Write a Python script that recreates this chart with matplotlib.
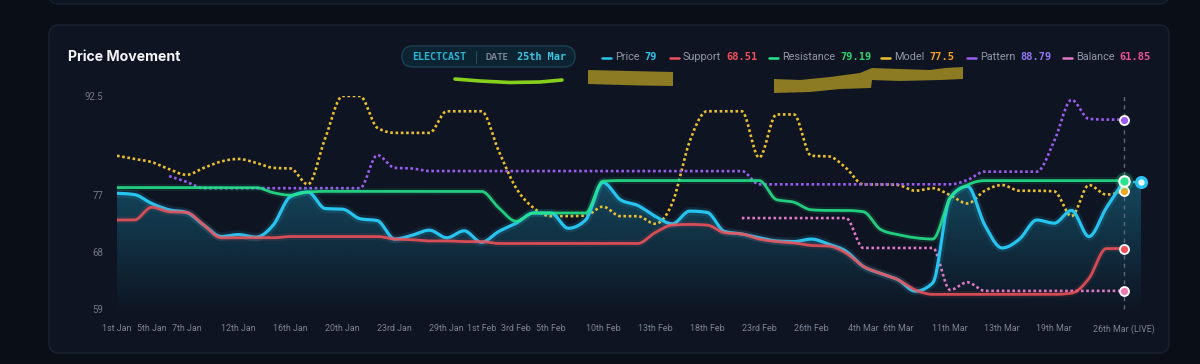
import numpy as np
import matplotlib
matplotlib.use('Agg')
import matplotlib.pyplot as plt
from matplotlib.patches import FancyBboxPatch, Polygon

plt.rcParams['font.family'] = ['Inter', 'DejaVu Sans']

nan = np.nan

# x axis: category index -> shown label
tick_pos = [0, 2, 4, 7, 10, 13, 16, 19, 21, 23, 25, 28, 31, 34, 37, 40, 43, 45, 48, 51, 54, 58]
tick_labels = ['1st Jan', '5th Jan', '7th Jan', '12th Jan', '16th Jan', '20th Jan', '23rd Jan',
               '29th Jan', '1st Feb', '3rd Feb', '5th Feb', '10th Feb', '13th Feb', '18th Feb',
               '23rd Feb', '26th Feb', '4th Mar', '6th Mar', '11th Mar', '13th Mar', '19th Mar',
               '26th Mar (LIVE)']
y_ticks = [59, 68, 77, 92.5]
live_idx = 58

price = [77.2, 77.0, 75.6, 74.6, 74.2, 72.2, 70.4, 70.7, 70.3, 72.2,
         76.7, 77.4, 74.8, 74.7, 73.2, 72.9, 70.0, 70.6, 71.4, 70.2,
         71.3, 69.5, 71.2, 72.5, 74.1, 74.1, 71.7, 73.0, 78.9, 76.2,
         75.3, 73.6, 72.4, 74.4, 74.2, 71.2, 70.8, 70.2, 69.7, 69.6,
         70.0, 69.2, 68.1, 65.7, 64.6, 63.6, 61.8, 63.1, 76.5, 78.3,
         72.2, 68.6, 70.0, 73.0, 72.5, 74.5, 70.4, 74.9, 79.0, 79.0]
support = [73.0, 73.0, 75.0, 74.3, 74.2, 72.2, 70.2, 70.2, 70.2, 70.2,
           70.4, 70.4, 70.4, 70.4, 70.4, 70.4, 70.0, 69.9, 69.7, 69.7,
           69.6, 69.6, 69.3, 69.3, 69.3, 69.3, 69.3, 69.3, 69.3, 69.3,
           69.3, 71.0, 72.2, 72.3, 72.2, 71.0, 70.8, 70.0, 69.6, 69.4,
           69.0, 68.9, 67.8, 65.7, 64.6, 63.6, 62.0, 61.3, 61.3, 61.3,
           61.3, 61.3, 61.3, 61.3, 61.3, 61.5, 63.8, 68.5, 68.51]
resistance = [78.1, 78.1, 78.1, 78.1, 78.1, 78.1, 78.1, 78.1, 78.1, 77.3,
              76.9, 77.4, 77.5, 77.5, 77.5, 77.5, 77.5, 77.5, 77.5, 77.5,
              77.5, 77.5, 74.9, 72.8, 74.1, 74.1, 74.1, 74.1, 79.1, 79.2,
              79.2, 79.2, 79.2, 79.2, 79.2, 79.2, 79.2, 79.2, 76.2, 75.8,
              74.6, 74.5, 74.5, 74.3, 71.5, 70.7, 70.2, 70.0, 76.4, 78.5,
              79.19, 79.19, 79.19, 79.19, 79.19, 79.19, 79.19, 79.19, 79.19]
model = [83.1, 82.6, 82.1, 81.0, 80.1, 81.2, 82.2, 82.6, 82.0, 81.2,
         81.1, 78.6, 85.9, 92.5, 92.5, 87.5, 86.7, 86.7, 86.7, 90.1,
         90.1, 90.1, 83.8, 78.0, 74.9, 73.6, 73.6, 73.7, 75.1, 73.6,
         73.6, 72.4, 75.7, 85.4, 90.1, 90.1, 90.1, 82.8, 89.6, 89.6,
         83.1, 83.0, 81.2, 78.6, 78.6, 78.5, 77.6, 78.0, 76.9, 75.6,
         77.6, 78.5, 77.6, 77.6, 77.5, 73.6, 78.5, 77.0, 77.5]
pattern = [nan, nan, nan, 79.9, 79.0, 78.0, 78.0, 78.0, 78.0, 78.0,
           78.0, 78.0, 78.0, 78.0, 78.0, 83.2, 81.2, 81.1, 80.7, 80.7,
           80.7, 80.7, 80.7, 80.7, 80.7, 80.7, 80.7, 80.7, 80.7, 80.7,
           80.7, 80.7, 80.7, 80.7, 80.7, 80.7, 80.7, 78.6, 78.6, 78.6,
           78.6, 78.6, 78.6, 78.6, 78.6, 78.6, 78.6, 78.6, 78.6, 79.3,
           80.6, 80.6, 80.6, 80.6, 85.4, 91.9, 88.9, 88.79, 88.79]
balance = [nan, nan, nan, nan, nan, nan, nan, nan, nan, nan,
           nan, nan, nan, nan, nan, nan, nan, nan, nan, nan,
           nan, nan, nan, nan, nan, nan, nan, nan, nan, nan,
           nan, nan, nan, nan, nan, nan, 73.3, 73.3, 73.3, 73.3,
           73.3, 73.3, 73.3, 68.6, 68.6, 68.6, 68.6, 68.6, 62.0, 63.2,
           61.85, 61.85, 61.85, 61.85, 61.85, 61.85, 61.85, 61.85, 61.85]

names = ['Price', 'Support', 'Resistance', 'Model', 'Pattern', 'Balance']
series = [price, support, resistance, model, pattern, balance]
line_colors = ['#26c4ef', '#ef5159', '#25e58c', '#ecc02c', '#9b5cf0', '#df78c6']
value_colors = ['#2ec3e8', '#f0505a', '#2fd36e', '#f2a51e', '#8f78f4', '#ec4f97']

BG = '#0a0e17'
CARD = '#0e1422'


def monotone(xs, ys, n=20):
    # monotone-x cubic (same rule as d3 curveMonotoneX)
    xs = np.asarray(xs, float)
    ys = np.asarray(ys, float)
    m = len(xs)
    if m < 2:
        return xs, ys
    h = np.diff(xs)
    s = np.diff(ys) / h
    t = np.zeros(m)
    for i in range(1, m - 1):
        p = (s[i - 1] * h[i] + s[i] * h[i - 1]) / (h[i - 1] + h[i])
        t[i] = (np.sign(s[i - 1]) + np.sign(s[i])) * min(abs(s[i - 1]), abs(s[i]), 0.5 * abs(p))
    if m > 2:
        t[0] = (3 * s[0] - t[1]) / 2
        t[-1] = (3 * s[-1] - t[-2]) / 2
    else:
        t[0] = t[-1] = s[0]
    out_x, out_y = [], []
    for i in range(m - 1):
        u = np.linspace(0, 1, n, endpoint=(i == m - 2))
        h00 = 2 * u**3 - 3 * u**2 + 1
        h10 = u**3 - 2 * u**2 + u
        h01 = -2 * u**3 + 3 * u**2
        h11 = u**3 - u**2
        out_x.append(xs[i] + u * h[i])
        out_y.append(h00 * ys[i] + h10 * h[i] * t[i] + h01 * ys[i + 1] + h11 * h[i] * t[i + 1])
    return np.concatenate(out_x), np.concatenate(out_y)


def smooth(vals):
    v = np.asarray(vals, float)
    idx = np.arange(len(v))
    ok = ~np.isnan(v)
    return monotone(idx[ok], v[ok])


fig = plt.figure(figsize=(12, 3.64), dpi=100, facecolor=BG)

# page / card layer in pixel coordinates
bg = fig.add_axes([0, 0, 1, 1], zorder=0)
bg.set_xlim(0, 1200)
bg.set_ylim(364, 0)
bg.axis('off')
bg.add_patch(FancyBboxPatch((49, -30), 1120, 34, boxstyle='round,pad=0,rounding_size=10',
                            fc='#0d1320', ec='#1a2231', lw=1))
bg.add_patch(FancyBboxPatch((49, 25), 1120, 328, boxstyle='round,pad=0,rounding_size=10',
                            fc=CARD, ec='#1a2332', lw=1))
bg.text(68, 57, 'Price Movement', color='#f3f5f8', fontsize=10.2, fontweight='bold',
        va='center', ha='left')

# badge
bg.add_patch(FancyBboxPatch((402, 46), 173, 21, boxstyle='round,pad=0,rounding_size=10.5',
                            fc='#0c2331', ec='#1c4153', lw=1))
bg.text(412, 57, 'ELECTCAST', color='#27b6d6', fontsize=7.2, fontweight='bold',
        family='DejaVu Sans Mono', va='center')
bg.plot([476, 476], [51, 63], color='#28475a', lw=0.8)
bg.text(485, 57, 'DATE', color='#7c8797', fontsize=6, fontweight='bold', va='center')
bg.text(517, 57, '25th Mar', color='#3bc6e6', fontsize=7.4, fontweight='bold',
        family='DejaVu Sans Mono', va='center')

# legend
item_x = [602, 670, 769, 881, 967, 1063]
fig.canvas.draw()
renderer = fig.canvas.get_renderer()
for x0, name, s, lc, vc in zip(item_x, names, series, line_colors, value_colors):
    bg.plot([x0, x0 + 9], [57.5, 57.5], color=lc, lw=1.8, solid_capstyle='round')
    lab = bg.text(x0 + 13, 57, name, color='#8e97a8', fontsize=7.8, family='Roboto', va='center')
    bb = lab.get_window_extent(renderer)
    last = [v for v in s[:live_idx + 1] if not np.isnan(v)][-1]
    bg.text(bb.x1 + 5, 57, f'{last:g}', color=vc, fontsize=7.5, fontweight='bold',
            family='DejaVu Sans Mono', va='center')

# hand-drawn marks on top of the screenshot
bg.plot([455, 480, 510, 540, 562], [79, 81, 82.5, 82, 80], color='#86cf1c', lw=2.6,
        solid_capstyle='round')
bg.add_patch(Polygon([(588, 70), (673, 72), (673, 86), (640, 85.5), (588, 84)],
                     fc='#8c7b22', ec='none'))
bg.add_patch(Polygon([(774, 79), (800, 80), (830, 77), (860, 73), (872, 68), (900, 69),
                      (930, 70), (945, 68), (963, 67), (963, 79), (940, 80), (900, 81),
                      (872, 80), (871, 88), (840, 89), (810, 92), (774, 93)],
                     fc='#8c7b22', ec='none'))

# chart axes: index 0 at x=117px, index 59 at x=1141px, 92.5 at y=96px, 59 at y=309px
ax = fig.add_axes([117 / 1200, 1 - 309 / 364, 1024 / 1200, 213 / 364], zorder=2)
ax.set_facecolor('none')
ax.set_xlim(0, len(price) - 1)
ax.set_ylim(59, 92.5)

# gradient area under price
px, py = smooth(price)
verts = list(zip(px, py)) + [(px[-1], 59), (px[0], 59)]
clip = Polygon(verts, closed=True, fc='none', ec='none', transform=ax.transData)
ax.add_patch(clip)
alpha = np.linspace(0.48, 0.01, 256)
rgba = np.zeros((256, 1, 4))
rgba[:, 0, :3] = matplotlib.colors.to_rgb('#22c3ee')
rgba[:, 0, 3] = alpha
img = ax.imshow(rgba, extent=(0, len(price) - 1, 59, 92.5), aspect='auto', origin='upper', zorder=1)
img.set_clip_path(clip)

# vertical live marker
ax.axvline(live_idx, color='#5d6779', lw=1, ls=(0, (3, 3)), zorder=2, clip_on=False)

dot = (0, (1, 1))
# dotted series
for s, c in [(model, line_colors[3]), (pattern, line_colors[4]), (balance, line_colors[5])]:
    x, y = smooth(s)
    ax.plot(x, y, color=c, lw=1.9, ls=dot, zorder=3, dash_capstyle='butt')

# price
live_x, live_y = smooth(price[:live_idx + 1])
ax.plot(live_x, live_y, color=line_colors[0], lw=6, alpha=0.12, zorder=4)
ax.plot(live_x, live_y, color=line_colors[0], lw=2.3, zorder=4)
ax.plot([live_idx, live_idx + 1], price[live_idx:], color=line_colors[0], lw=1.6,
        ls=(0, (2, 2)), zorder=4, clip_on=False)

# resistance and support
for s, c in [(resistance, line_colors[2]), (support, line_colors[1])]:
    x, y = smooth(s)
    ax.plot(x, y, color=c, lw=5, alpha=0.1, zorder=5)
    ax.plot(x, y, color=c, lw=2.0, alpha=0.88, zorder=5)

# end markers
for s, c in [(pattern, line_colors[4]), (model, value_colors[3]), (support, line_colors[1]),
             (balance, '#f07ab4')]:
    ax.plot(live_idx, s[live_idx], 'o', ms=6.5, mfc=c, mec='white', mew=1.3, zorder=7, clip_on=False)
ax.plot(live_idx, resistance[live_idx], 'o', ms=13, mfc=line_colors[2], mec='none', alpha=0.25,
        zorder=7, clip_on=False)
ax.plot(live_idx, resistance[live_idx], 'o', ms=7.5, mfc=line_colors[2], mec='white', mew=1.5,
        zorder=8, clip_on=False)
ax.plot(len(price) - 1, price[-1], 'o', ms=7, mfc='#e9fbff', mec=line_colors[0], mew=2.4,
        zorder=8, clip_on=False)

ax.set_xticks(tick_pos)
ax.set_xticklabels(tick_labels, family='Roboto')
ax.set_yticks(y_ticks)
ax.set_yticklabels([f'{v:g}' for v in y_ticks], family='Roboto')
ax.tick_params(axis='x', length=0, pad=11, labelsize=6.4, labelcolor='#7b8596')
ax.tick_params(axis='y', length=0, pad=10, labelsize=6.9, labelcolor='#6f7888')
for sp in ax.spines.values():
    sp.set_visible(False)

fig.savefig('out.png', dpi=100, facecolor=BG)
